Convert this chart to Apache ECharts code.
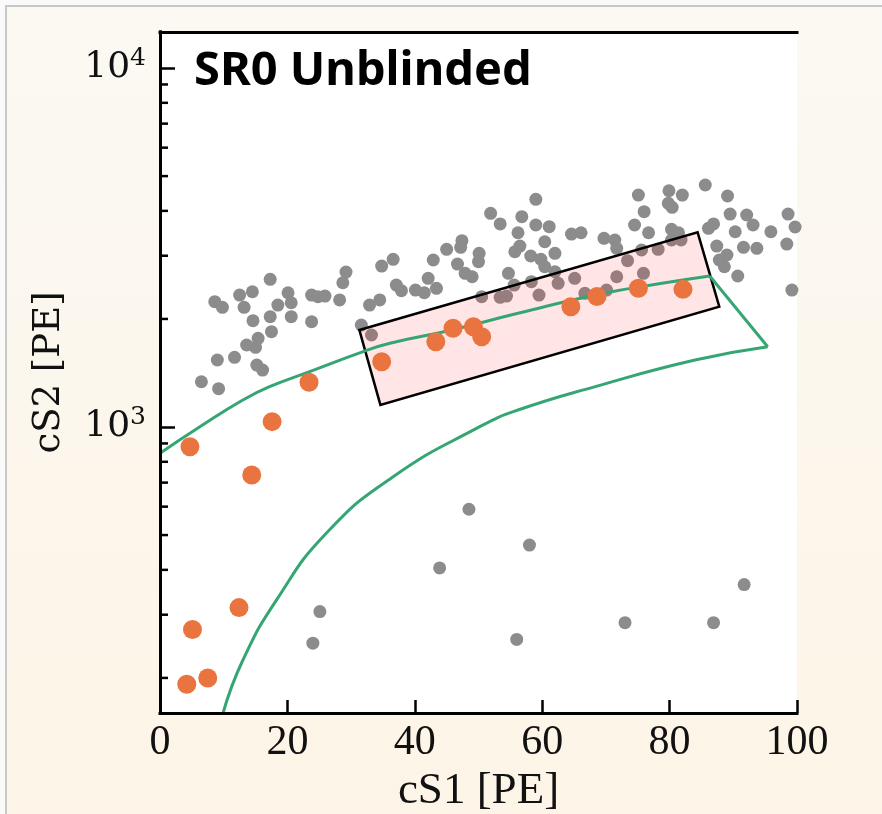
<!DOCTYPE html>
<html>
<head>
<meta charset="utf-8">
<script src="https://cdn.jsdelivr.net/npm/echarts@6/dist/echarts.min.js"></script>
<style>
  html, body { margin: 0; padding: 0; background: #fafafa; overflow: hidden; }
  #chart { width: 882px; height: 814px; }
</style>
</head>
<body>
<div id="chart"></div>
<script>
// Events outside the selection, as [cS1, cS2] in PE
const grayEvents = [
  [8.6, 2234], [9.8, 2155], [12.5, 2331], [14.5, 2381], [13.2, 2155], [17.3, 2579],
  [14.6, 1978], [17.3, 2029], [18.5, 2186], [20.1, 2366], [20.6, 2219], [20.6, 2029],
  [17.5, 1843], [15.4, 1766], [13.6, 1692], [15.0, 1667], [11.7, 1564], [9.0, 1537],
  [15.2, 1488], [16.1, 1441], [6.5, 1337], [9.2, 1279], [23.8, 2331], [24.8, 2307],
  [25.9, 2316], [23.8, 1965], [28.2, 2259], [28.7, 2523], [29.2, 2702], [32.9, 2186],
  [34.5, 2259], [34.8, 2808], [31.6, 1923], [33.2, 1804], [36.6, 2932], [37.1, 2486],
  [42.9, 2919], [45.0, 3126], [47.4, 3304], [47.2, 3166], [50.1, 3047], [50.0, 2887],
  [46.7, 2844], [47.9, 2680], [49.0, 2622], [42.1, 2596], [43.4, 2434], [41.5, 2366],
  [40.1, 2407], [37.9, 2397], [51.9, 3938], [53.4, 3678], [56.8, 3853], [59.0, 4308],
  [59.0, 3654], [61.1, 3614], [56.2, 3477], [56.5, 3192], [55.7, 3078], [60.4, 3282],
  [62.0, 3047], [58.2, 2995], [59.8, 2932], [60.4, 2795], [54.7, 2680], [55.6, 2486],
  [58.3, 2540], [59.5, 2331], [62.0, 2707], [62.5, 2513], [65.1, 2596], [64.6, 3448],
  [66.1, 3477], [50.5, 2307], [53.4, 2298], [54.4, 2316], [66.7, 2357], [75.1, 4428],
  [79.9, 4552], [82.0, 4428], [79.8, 4199], [80.4, 4093], [76.0, 3979], [74.5, 3654],
  [76.7, 3477], [85.6, 4722], [89.1, 4400], [89.5, 3920], [92.1, 3895], [93.1, 3654],
  [90.3, 3499], [95.9, 3499], [98.6, 3920], [98.4, 3233], [99.7, 3607], [86.1, 3577],
  [86.9, 3678], [80.3, 3554], [81.4, 3477], [69.7, 3354], [71.4, 3318], [71.7, 3146],
  [75.6, 3112], [78.2, 3126], [80.3, 3318], [81.8, 3318], [87.4, 3192], [91.6, 3166],
  [93.7, 3146], [89.0, 3014], [87.8, 2919], [88.6, 2795], [90.7, 2634], [73.4, 2906],
  [75.9, 2680], [71.7, 2622], [70.1, 2407], [99.2, 2407],
  [25.1, 306], [24.0, 250], [43.9, 405], [48.5, 590], [58.0, 469], [56.0, 256],
  [73.0, 285], [86.9, 285], [91.7, 364]
];

// Highlighted events, as [cS1, cS2] in PE
const orangeEvents = [
  [4.7, 881], [17.6, 1035], [14.4, 735], [12.4, 314], [5.1, 273], [7.5, 200],
  [4.2, 192], [23.4, 1332], [34.8, 1520], [43.3, 1728], [46.0, 1883], [49.2, 1903],
  [50.5, 1784], [64.5, 2163], [68.6, 2310], [75.1, 2434], [82.1, 2418]
];

// Region-of-interest outline: upper edge, closing right edge, lower edge
const roiUpper = [
  [0, 845], [6.2, 1000], [13.0, 1189], [17.2, 1295], [23.5, 1426], [31.9, 1621],
  [36.1, 1711], [45.8, 1863], [56.2, 2074], [69.1, 2347], [78.8, 2513], [86.3, 2634]
];
const roiRightEdge = [[86.3, 2634], [95.4, 1674]];
const roiLower = [
  [95.4, 1674], [84.0, 1537], [68.6, 1300], [56.2, 1115], [50.2, 1002],
  [36.6, 727], [26.1, 506], [18.3, 330], [13.0, 224], [9.9, 159.7]
];

// Corners of the shaded selection box
const boxCorners = [[31.3, 1863], [84.4, 3485], [87.8, 2163], [34.6, 1152]];

// Axis extents and the minor ticks of the log axis
const xRange = [0, 100];
const xStep = 20;
const yRange = [159.7, 12600];
const minorTickValues = [200, 300, 400, 500, 600, 700, 800, 900,
                         2000, 3000, 4000, 5000, 6000, 7000, 8000, 9000];

const ink = '#111';
const green = '#35a673';
const frameWidth = 3;

const chart = echarts.init(document.getElementById('chart'), null, { renderer: 'canvas' });

function roiLine(name, points, smooth) {
  return {
    name: name, type: 'line', z: 4,
    showSymbol: false, symbol: 'none', clip: true,
    smooth: smooth,
    lineStyle: { color: green, width: 3 },
    data: points
  };
}

const option = {
  backgroundColor: '#fafafa',
  animation: false,
  graphic: [
    {
      type: 'rect', z: -10, silent: true,
      shape: { x: 6, y: 6, width: 900, height: 900 },
      style: {
        fill: new echarts.graphic.LinearGradient(0, 0, 0, 1, [
          { offset: 0, color: '#fbf9f3' },
          { offset: 1, color: '#fdf4e5' }
        ]),
        stroke: '#c8c8c8', lineWidth: 2
      }
    },
    {
      type: 'text', left: 194, top: 48, z: 20, silent: true,
      style: { text: 'SR0 Unblinded', font: 'bold 47px "Noto Sans"', fill: '#000' }
    }
  ],
  grid: {
    left: 160, top: 32, right: 85, bottom: 101,
    outerBoundsMode: 'none', containLabel: false,
    show: true, backgroundColor: '#fff', borderWidth: 0
  },
  xAxis: [
    {
      type: 'value', min: xRange[0], max: xRange[1], interval: xStep, z: 10,
      axisLine: { show: true, lineStyle: { color: '#000', width: frameWidth, cap: 'square' } },
      axisTick: { show: true, inside: true, length: 13, lineStyle: { color: '#000', width: 2.5 } },
      splitLine: { show: false },
      axisLabel: { margin: 9, color: ink, fontFamily: 'Liberation Serif', fontSize: 42 },
      name: 'cS1 [PE]', nameLocation: 'middle', nameGap: 56,
      nameTextStyle: { color: ink, fontFamily: 'Liberation Serif', fontSize: 45 }
    },
    {
      type: 'value', min: xRange[0], max: xRange[1], position: 'top', z: 10,
      axisLine: { show: true, lineStyle: { color: '#000', width: frameWidth, cap: 'square' } },
      axisTick: { show: false }, axisLabel: { show: false }, splitLine: { show: false }
    }
  ],
  yAxis: [
    {
      type: 'log', logBase: 10, min: yRange[0], max: yRange[1], z: 10,
      axisLine: { show: true, lineStyle: { color: '#000', width: frameWidth, cap: 'square' } },
      axisTick: { show: true, inside: true, length: 15, lineStyle: { color: '#000', width: 2.5 } },
      splitLine: { show: false },
      axisLabel: {
        margin: 14, color: ink,
        formatter: function (v) {
          const e = Math.log10(v);
          if (Math.abs(e - Math.round(e)) < 1e-6) {
            return '{b|10}{s|' + Math.round(e) + '}';
          }
          return '';
        },
        rich: {
          b: { fontFamily: 'DejaVu Serif', fontSize: 36, lineHeight: 44, color: ink },
          s: { fontFamily: 'DejaVu Serif', fontSize: 25, lineHeight: 25, verticalAlign: 'top', color: ink }
        }
      },
      name: 'cS2 [PE]', nameLocation: 'middle', nameGap: 92,
      nameTextStyle: { color: ink, fontFamily: 'DejaVu Serif', fontSize: 37 }
    },
    {
      type: 'log', logBase: 10, min: yRange[0], max: yRange[1], position: 'right', z: 10,
      axisLine: { show: true, lineStyle: { color: '#000', width: frameWidth, cap: 'square' } },
      axisTick: { show: false }, axisLabel: { show: false }, splitLine: { show: false }
    }
  ],
  series: [
    {
      name: 'events', type: 'scatter', z: 2,
      symbol: 'circle', symbolSize: 13,
      itemStyle: { color: '#8c8c8c', opacity: 1 },
      data: grayEvents
    },
    {
      name: 'box', type: 'custom', z: 3,
      data: boxCorners,
      renderItem: function (params, api) {
        if (params.dataIndex !== 0) return null;
        const pts = boxCorners.map(function (c) { return api.coord(c); });
        return {
          type: 'polygon',
          shape: { points: pts },
          style: { fill: 'rgba(255,0,0,0.1)', stroke: '#000', lineWidth: 2.5, lineJoin: 'miter' }
        };
      }
    },
    roiLine('roiUpper', roiUpper, 0.5),
    roiLine('roiRightEdge', roiRightEdge, false),
    roiLine('roiLower', roiLower, 0.5),
    {
      name: 'selected', type: 'scatter', z: 5,
      symbol: 'circle', symbolSize: 19,
      itemStyle: { color: '#e9743f', opacity: 1 },
      data: orangeEvents
    },
    {
      name: 'minorTicks', type: 'custom', z: 11,
      data: minorTickValues.map(function (v) { return [xRange[0], v]; }),
      renderItem: function (params, api) {
        const p = api.coord([api.value(0), api.value(1)]);
        return {
          type: 'line',
          shape: { x1: p[0], y1: p[1], x2: p[0] + 8, y2: p[1] },
          style: { stroke: '#000', lineWidth: 2.5 }
        };
      }
    }
  ]
};

chart.setOption(option);
</script>
</body>
</html>
